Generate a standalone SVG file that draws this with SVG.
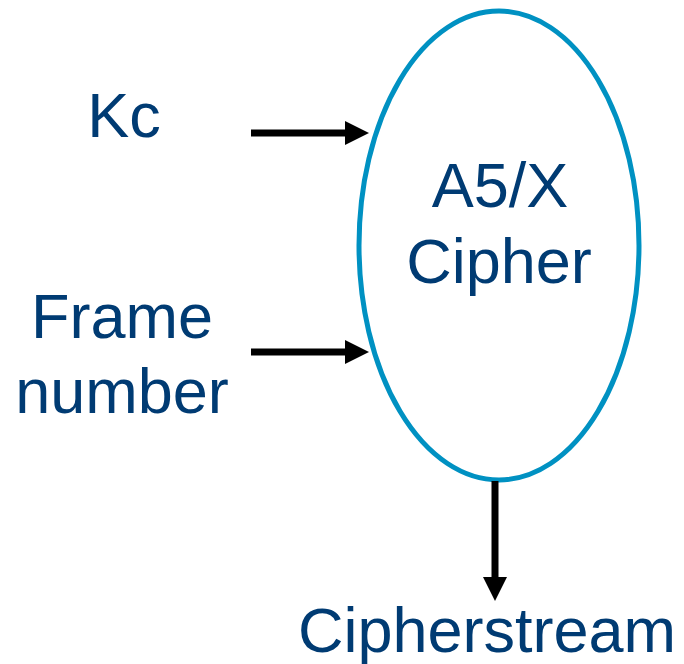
<svg xmlns="http://www.w3.org/2000/svg" width="684" height="664" viewBox="0 0 684 664">
  <style>
    .lbl { font-family: "Liberation Sans", Arial, sans-serif; font-size: 63px; fill: #003b73; text-anchor: middle; }
    .edge { stroke: #000; stroke-width: 7; fill: none; }
  </style>
  <defs>
    <marker id="head" viewBox="0 0 24 24" refX="0" refY="12" markerWidth="24" markerHeight="24" markerUnits="userSpaceOnUse" orient="auto">
      <path d="M0,0 L24,12 L0,24 Z" fill="#000"/>
    </marker>
  </defs>
  <rect width="684" height="664" fill="#fff"/>

  <g id="cipher">
    <ellipse cx="499" cy="245.5" rx="140" ry="234.5" fill="none" stroke="#0091c2" stroke-width="5"/>
    <text class="lbl" x="500" y="207">A5/X</text>
    <text class="lbl" x="499" y="283">Cipher</text>
  </g>

  <g id="kc">
    <text class="lbl" x="124" y="137">Kc</text>
  </g>

  <g id="frame-number">
    <text class="lbl" x="122" y="338">Frame</text>
    <text class="lbl" x="122" y="413">number</text>
  </g>

  <g id="cipherstream">
    <text class="lbl" x="487" y="652">Cipherstream</text>
  </g>

  <g id="connectors">
    <line class="edge" x1="251" y1="133" x2="345" y2="133" marker-end="url(#head)"/>
    <line class="edge" x1="251" y1="352" x2="345" y2="352" marker-end="url(#head)"/>
    <line class="edge" x1="495" y1="481" x2="495" y2="577" marker-end="url(#head)"/>
  </g>
</svg>
